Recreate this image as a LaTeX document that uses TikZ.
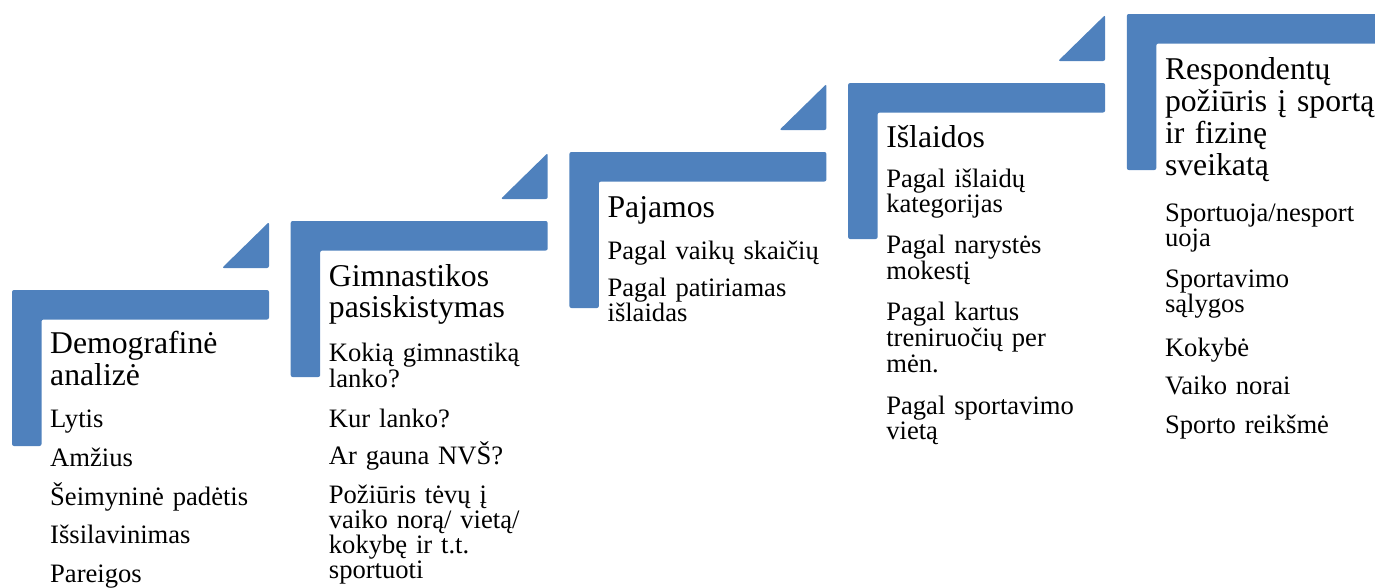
\documentclass[tikz,border=0pt]{standalone}
\usepackage{fontspec}
\setmainfont{Liberation Serif}
\definecolor{stepblue}{RGB}{79,129,189}
\newcommand\stepL[2]{%
  \fill[stepblue,rounded corners=2pt] (#1,#2) -- ++(257,0) -- ++(0,29.5) -- ++(-227.5,0) -- ++(0,126.5) -- ++(-29.5,0) -- cycle;}
\newcommand\stepTri[2]{%
  \fill[stepblue,rounded corners=2pt] (#1+210,#2-22) -- (#1+257,#2-68) -- (#1+257,#2-22) -- cycle;}
\begin{document}
\begin{tikzpicture}[x=1pt,y=-1pt,
  hd/.style={anchor=base west,inner sep=0pt,text width=330pt,align=left,font=\fontsize{31.7}{32}\selectfont},
  it/.style={anchor=base west,inner sep=0pt,text width=330pt,align=left,font=\fontsize{26.6}{25.8}\selectfont}]
\useasboundingbox (0,0) rectangle (1375,587);
\clip (0,0) rectangle (1375,587);
% step shapes
\stepL{12}{290}      \stepTri{12}{290}
\stepL{290.7}{221}   \stepTri{290.7}{221}
\stepL{569.4}{152}   \stepTri{569.4}{152}
\stepL{848.1}{83}    \stepTri{848.1}{83}
\stepL{1126.8}{14}
% step 1
\node[hd] (h1) at (50,353.5) {Demografinė\\analizė};
\node[it] (a1) at (50,427) {Lytis};
\node[it] (a2) at (50,466) {Amžius};
\node[it] (a3) at (50,505) {Šeimyninė padėtis};
\node[it] (a4) at (50,543.5) {Išsilavinimas};
\node[it] (a5) at (50,582) {Pareigos};
% step 2
\node[hd,font=\fontsize{31.7}{31}\selectfont] (h2) at (328.7,286) {Gimnastikos\\pasiskistymas};
\node[it] (b1) at (328.7,361.5) {Kokią gimnastiką\\lanko?};
\node[it] (b2) at (328.7,427) {Kur lanko?};
\node[it] (b3) at (328.7,464) {Ar gauna NVŠ?};
\node[it,font=\fontsize{26.6}{25.2}\selectfont] (b4) at (328.7,503.3) {Požiūris tėvų į\\vaiko norą/ vietą/\\kokybę ir t.t.\\sportuoti};
% step 3
\node[hd] (h3) at (607.4,217.5) {Pajamos};
\node[it] (c1) at (607.4,259) {Pagal vaikų skaičių};
\node[it] (c2) at (607.4,296) {Pagal patiriamas\\išlaidas};
% step 4
\node[hd] (h4) at (886.1,147.5) {Išlaidos};
\node[it] (d1) at (886.1,187) {Pagal išlaidų\\kategorijas};
\node[it] (d2) at (886.1,253.7) {Pagal narystės\\mokestį};
\node[it] (d3) at (886.1,320.7) {Pagal kartus\\treniruočių per\\mėn.};
\node[it] (d4) at (886.1,414) {Pagal sportavimo\\vietą};
% step 5
\node[hd] (h5) at (1164.8,79) {Respondentų\\požiūris į sportą\\ir fizinę\\sveikatą};
\node[it] (e1) at (1164.8,221) {Sportuoja/nesport\\uoja};
\node[it] (e2) at (1164.8,287) {Sportavimo\\sąlygos};
\node[it] (e3) at (1164.8,356) {Kokybė};
\node[it] (e4) at (1164.8,394) {Vaiko norai};
\node[it] (e5) at (1164.8,433) {Sporto reikšmė};
\end{tikzpicture}
\end{document}
